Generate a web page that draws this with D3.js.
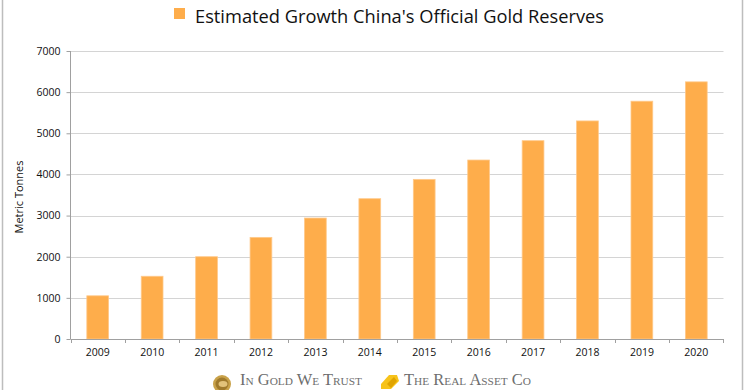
<!DOCTYPE html>
<html><head><meta charset="utf-8">
<script src="https://cdn.jsdelivr.net/npm/d3@7"></script>
<style>body{margin:0;background:#fff}svg{display:block}</style>
</head><body>
<script>
const years = ["2009","2010","2011","2012","2013","2014","2015","2016","2017","2018","2019","2020"];
const reserves = [1050,1525,2000,2470,2940,3410,3880,4350,4820,5300,5780,6250];
const yTicks = [0,1000,2000,3000,4000,5000,6000,7000];
const titleText = "Estimated Growth China's Official Gold Reserves";
const yLabel = "Metric Tonnes";

const W=745,H=390;
const svg=d3.select("body").append("svg").attr("width",W).attr("height",H);
const font="'Open Sans', 'Liberation Sans', sans-serif";

// frame lines
svg.append("line").attr("x1",2.5).attr("x2",2.5).attr("y1",0).attr("y2",H).attr("stroke","#bdbdbd").attr("stroke-width",1.5);
svg.append("line").attr("x1",742.5).attr("x2",742.5).attr("y1",0).attr("y2",H).attr("stroke","#bdbdbd").attr("stroke-width",1.5);

const m={l:70.5,r:723.5,t:51,b:339};
const x=d3.scaleBand().domain(years).range([m.l,m.r]).paddingInner(0.6).paddingOuter(0.3);
const xb=d3.scaleBand().domain(years).range([m.l,m.r]);
const y=d3.scaleLinear().domain([0,7000]).range([m.b,m.t]);

// gridlines
svg.append("g").selectAll("line").data(yTicks.filter(d=>d>0)).join("line")
 .attr("x1",m.l).attr("x2",m.r).attr("y1",d=>Math.round(y(d))+0.5).attr("y2",d=>Math.round(y(d))+0.5)
 .attr("stroke","#d4d4d4").attr("stroke-width",1);

// bars
svg.append("g").selectAll("rect").data(years).join("rect")
 .attr("x",d=>x(d)).attr("width",x.bandwidth())
 .attr("y",(d,i)=>y(reserves[i])).attr("height",(d,i)=>y(0)-y(reserves[i]))
 .attr("fill","#fead4b").attr("stroke","#ffc98a").attr("stroke-width",0.8);

// y axis
const ya=svg.append("g").attr("transform",`translate(${m.l},0)`)
 .call(d3.axisLeft(y).tickValues(yTicks).tickSize(4).tickPadding(6).tickFormat(d3.format("d")));
ya.select(".domain").attr("stroke","#a0a0a0").attr("d",`M0,${m.t}V${m.b}`);
ya.selectAll(".tick line").attr("stroke","#a0a0a0");
ya.selectAll("text").attr("font-family",font).attr("font-size",10.5).attr("fill","#111");

// x axis
const xa=svg.append("g").attr("transform",`translate(0,${m.b+0.5})`)
 .call(d3.axisBottom(xb).tickSize(0).tickPadding(9));
xa.select(".domain").attr("stroke","#a0a0a0").attr("d",`M${m.l},0H${m.r}`);
xa.selectAll(".tick line").remove();
xa.selectAll("text").attr("font-family",font).attr("font-size",10.5).attr("fill","#111");
// category boundary ticks
svg.append("g").selectAll("line").data(years.concat(["end"])).join("line")
 .attr("x1",(d,i)=>i<years.length?Math.round(xb(d))+0.5:m.r).attr("x2",(d,i)=>i<years.length?Math.round(xb(d))+0.5:m.r)
 .attr("y1",m.b).attr("y2",m.b+4).attr("stroke","#a0a0a0");

// y label
svg.append("text").attr("transform","translate(23,197) rotate(-90)").attr("text-anchor","middle")
 .attr("font-family",font).attr("font-size",11).attr("fill","#111").text(yLabel);

// title with legend swatch
svg.append("rect").attr("x",174).attr("y",8).attr("width",11).attr("height",11).attr("fill","#fead4b");
svg.append("text").attr("x",195).attr("y",23).attr("font-family",font).attr("font-size",19)
 .attr("fill","#111").attr("textLength",409).attr("lengthAdjust","spacingAndGlyphs").text(titleText);

// footer logos
const coin=svg.append("g");
coin.append("circle").attr("cx",222).attr("cy",384).attr("r",9).attr("fill","#c9a24a");
coin.append("circle").attr("cx",222).attr("cy",384).attr("r",6.5).attr("fill","#a07a2c");
coin.append("ellipse").attr("cx",223).attr("cy",384).attr("rx",4.5).attr("ry",3).attr("fill","#e2c27a");
svg.append("text").attr("x",240).attr("y",385).attr("font-family","'Liberation Serif', serif").attr("font-size",16)
 .attr("font-variant","small-caps").attr("fill","#6e6e6e").attr("textLength",122).attr("lengthAdjust","spacingAndGlyphs").text("In Gold We Trust");
svg.append("path").attr("d","M381,384 L389,375 L397,375 L399,381 L391,389 L381,389 Z").attr("fill","#f7c31a");
svg.append("path").attr("d","M387,384 L394,377 L397,381 L391,388 Z").attr("fill","#e0a400");
svg.append("text").attr("x",404).attr("y",385).attr("font-family","'Liberation Serif', serif").attr("font-size",16)
 .attr("font-variant","small-caps").attr("fill","#6e6e6e").attr("textLength",127).attr("lengthAdjust","spacingAndGlyphs").text("The Real Asset Co");
</script>
</body></html>
